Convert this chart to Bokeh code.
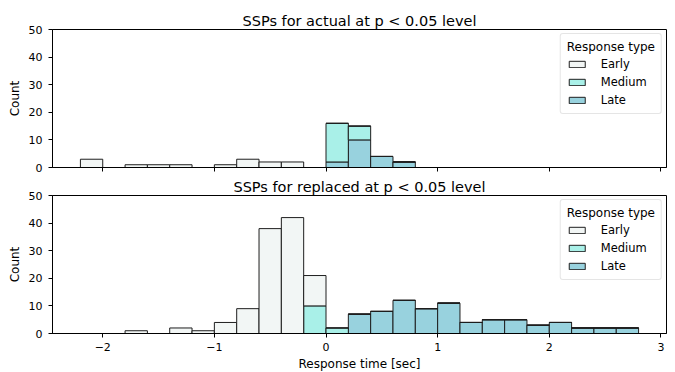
import numpy as np
from bokeh.plotting import figure
from bokeh.models import Range1d, FixedTicker, Legend, LegendItem, ColumnDataSource
from bokeh.layouts import column
from bokeh.embed import file_html
from bokeh.resources import INLINE

# ---- data ----
bin_edges = [-2.2, -2.0, -1.8, -1.6, -1.4, -1.2, -1.0, -0.8, -0.6, -0.4, -0.2, 0.0,
             0.2, 0.4, 0.6, 0.8, 1.0, 1.2, 1.4, 1.6, 1.8, 2.0, 2.2, 2.4, 2.6, 2.8]
hue_names = ["Early", "Medium", "Late"]

actual_early  = [3, 0, 1, 1, 1, 0, 1, 3, 2, 2, 0, 0, 0, 0, 0, 0, 0, 0, 0, 0, 0, 0, 0, 0, 0]
actual_medium = [0, 0, 0, 0, 0, 0, 0, 0, 0, 0, 0, 14, 5, 0, 0, 0, 0, 0, 0, 0, 0, 0, 0, 0, 0]
actual_late   = [0, 0, 0, 0, 0, 0, 0, 0, 0, 0, 0, 2, 10, 4, 2, 0, 0, 0, 0, 0, 0, 0, 0, 0, 0]

replaced_early  = [0, 0, 1, 0, 2, 1, 4, 9, 38, 42, 11, 0, 0, 0, 0, 0, 0, 0, 0, 0, 0, 0, 0, 0, 0]
replaced_medium = [0, 0, 0, 0, 0, 0, 0, 0, 0, 0, 10, 2, 0, 0, 0, 0, 0, 0, 0, 0, 0, 0, 0, 0, 0]
replaced_late   = [0, 0, 0, 0, 0, 0, 0, 0, 0, 0, 0, 0, 7, 8, 12, 9, 11, 4, 5, 5, 3, 4, 2, 2, 2]

x_ticks = [-2, -1, 0, 1, 2, 3]
y_ticks = [0, 10, 20, 30, 40, 50]

colors = {"Early": "#f2f6f5", "Medium": "#a9f0e8", "Late": "#98d2de"}
EDGE = "#1e1e1e"
FONT = "DejaVu Sans"


def make_fig(title, early, medium, late, show_xlabels, border_top, border_bottom, title_standoff):
    p = figure(frame_width=614, frame_height=138,
               x_range=Range1d(-2.45, 3.05), y_range=Range1d(0, 50),
               output_backend="svg", toolbar_location=None,
               min_border_left=52, min_border_right=8,
               min_border_top=border_top, min_border_bottom=border_bottom,
               title=title)
    p.title.align = "center"
    p.title.text_font = FONT
    p.title.text_font_size = "14.5px"
    p.title.text_font_style = "normal"
    p.title.text_color = "#000000"
    p.title.standoff = title_standoff

    left = np.array(bin_edges[:-1])
    right = np.array(bin_edges[1:])
    e = np.array(early, dtype=float)
    m = np.array(medium, dtype=float)
    l = np.array(late, dtype=float)
    stacks = {"Late": (np.zeros_like(l), l),
              "Medium": (l, l + m),
              "Early": (l + m, l + m + e)}
    rends = {}
    for name in ["Late", "Medium", "Early"]:
        b, t = stacks[name]
        src = ColumnDataSource(dict(left=left, right=right, bottom=b, top=t))
        rends[name] = p.quad(left="left", right="right", bottom="bottom", top="top",
                             source=src, fill_color=colors[name],
                             line_color=EDGE, line_width=1)

    p.xgrid.visible = False
    p.ygrid.visible = False
    p.outline_line_color = "#000000"
    p.outline_line_width = 1

    for ax in (p.xaxis, p.yaxis):
        ax.axis_line_color = "#000000"
        ax.major_tick_line_color = "#000000"
        ax.minor_tick_line_color = None
        ax.major_tick_out = 4
        ax.major_tick_in = 0
        ax.major_label_text_font = FONT
        ax.major_label_text_font_size = "11px"
        ax.major_label_text_color = "#000000"
        ax.axis_label_text_font = FONT
        ax.axis_label_text_font_size = "12px"
        ax.axis_label_text_font_style = "normal"
        ax.axis_label_text_color = "#000000"

    p.xaxis.ticker = FixedTicker(ticks=x_ticks)
    p.yaxis.ticker = FixedTicker(ticks=y_ticks)
    p.yaxis.major_label_standoff = 6
    p.yaxis.axis_label = "Count"
    p.yaxis.axis_label_standoff = 4
    if show_xlabels:
        p.xaxis.major_label_overrides = {-2: "\u22122", -1: "\u22121"}
        p.xaxis.major_label_standoff = 5
        p.xaxis.axis_label = "Response time [sec]"
        p.xaxis.axis_label_standoff = 3
    else:
        p.xaxis.major_label_overrides = {t: "" for t in x_ticks}
        p.xaxis.major_label_standoff = 0

    legend = Legend(items=[LegendItem(label=n, renderers=[rends[n]]) for n in hue_names],
                    location="top_right", title="Response type")
    legend.title_text_font = FONT
    legend.title_text_font_size = "12px"
    legend.title_text_font_style = "normal"
    legend.title_text_color = "#000000"
    legend.title_standoff = 3
    legend.label_text_font = FONT
    legend.label_text_font_size = "11.5px"
    legend.label_text_color = "#000000"
    legend.glyph_width = 20
    legend.glyph_height = 8
    legend.label_height = 14
    legend.label_standoff = 14
    legend.spacing = 4
    legend.padding = 6
    legend.margin = 4
    legend.border_line_color = "#cccccc"
    legend.border_line_width = 1
    legend.background_fill_alpha = 0.85
    if hasattr(legend, "border_radius"):
        legend.border_radius = 3
    p.add_layout(legend)
    return p


p1 = make_fig("SSPs for actual at p < 0.05 level", actual_early, actual_medium, actual_late,
              False, 29, 7, 2)
p2 = make_fig("SSPs for replaced at p < 0.05 level", replaced_early, replaced_medium, replaced_late,
              True, 21, 38, 1)

layout = column(p1, p2, spacing=0)
open("out.html", "w").write(file_html(layout, INLINE))
